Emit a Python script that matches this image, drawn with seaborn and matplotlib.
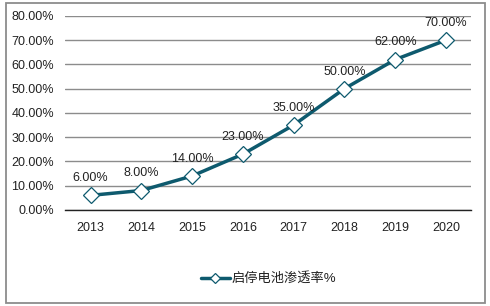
import matplotlib
matplotlib.use("Agg")
import matplotlib.pyplot as plt
from matplotlib.patches import Rectangle
import seaborn as sns
import pandas as pd

years = ["2013", "2014", "2015", "2016", "2017", "2018", "2019", "2020"]
values = [6.0, 8.0, 14.0, 23.0, 35.0, 50.0, 62.0, 70.0]
series_name = "启停电池渗透率%"
yticks = [0, 10, 20, 30, 40, 50, 60, 70, 80]

sns.set_theme(style="white")
plt.rcParams['font.family'] = ['Liberation Sans', 'Noto Sans CJK SC', 'DejaVu Sans']

df = pd.DataFrame({"year": years, "value": values})

W, H = 490, 306
fig = plt.figure(figsize=(W / 100, H / 100), dpi=100)
fig.patches.append(Rectangle((6 / W, 1 - 303 / H), (485 - 6) / W, (303 - 3) / H,
                             transform=fig.transFigure, fill=False,
                             edgecolor="#8c8c8c", linewidth=1.3))
ax = fig.add_axes([0.133, 0.314, 0.829, 0.634])

color = "#0e5a6e"
sns.lineplot(data=df, x="year", y="value", ax=ax, color=color, linewidth=2.5,
             marker="D", markersize=8.0, markerfacecolor="white",
             markeredgecolor=color, markeredgewidth=0.9, label=series_name,
             sort=False)

for i, v in enumerate(values):
    ax.text(i, v + 4.6, f"{v:.2f}%", ha="center", va="bottom", fontsize=9,
            color="#222222")

ax.set_ylim(0, 80)
ax.set_xlim(-0.5, len(years) - 0.5)
ax.set_yticks(yticks)
ax.set_yticklabels([f"{t:.2f}%" for t in yticks], fontsize=9, color="#222222")
ax.tick_params(axis="x", labelsize=9, colors="#222222", length=0, pad=9)
ax.tick_params(axis="y", length=0, pad=8)
ax.set_xlabel("")
ax.set_ylabel("")
ax.grid(axis="y", color="#8c8c8c", linewidth=1.0)
ax.set_axisbelow(True)
for s in ["top", "right", "left"]:
    ax.spines[s].set_visible(False)
ax.spines["bottom"].set_color("#222222")
ax.spines["bottom"].set_linewidth(1.0)

leg = ax.legend(loc="center", bbox_to_anchor=(0.5, -0.355), frameon=False,
                fontsize=9.5, handlelength=2.2, handletextpad=0.1,
                markerscale=0.7)
for t in leg.get_texts():
    t.set_color("#222222")

fig.savefig("out.png", dpi=100)
